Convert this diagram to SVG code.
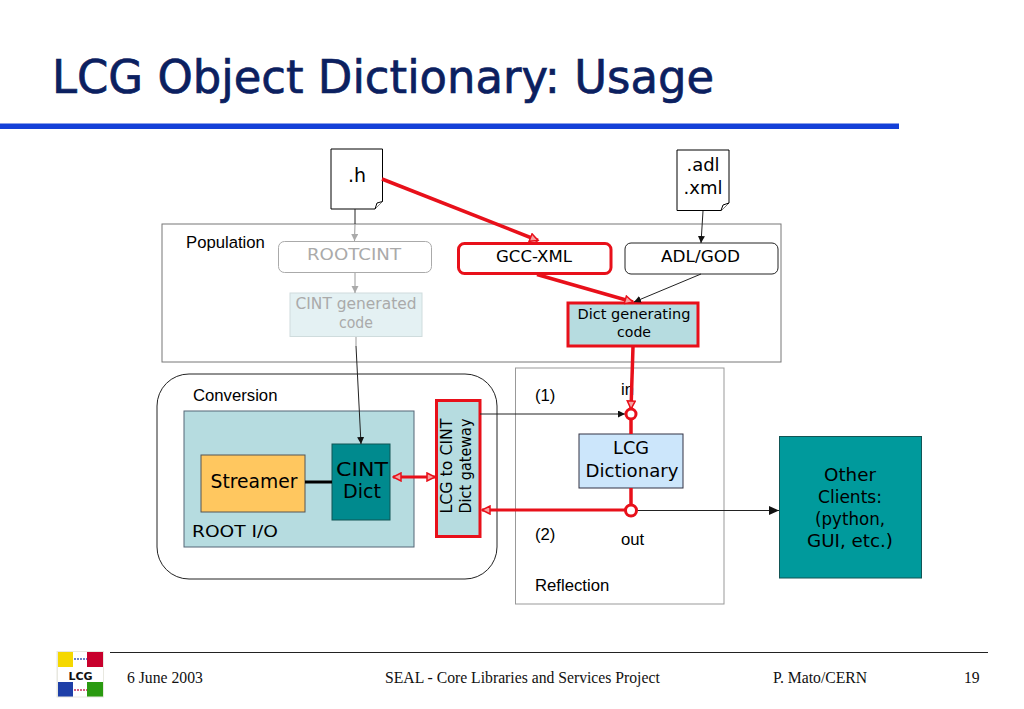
<svg xmlns="http://www.w3.org/2000/svg" width="1024" height="709" viewBox="0 0 1024 709">
<style>
.c{font-family:"DejaVu Sans","Noto Sans",sans-serif;fill:#000}
.a{font-family:"Liberation Sans",Arial,sans-serif;fill:#000;font-size:16.700px}
.t{font-family:"Liberation Serif","Times New Roman",serif;font-size:15.700px;fill:#111}
.m{text-anchor:middle}
.doc{fill:#fff;stroke:#000;stroke-width:1}
.k{fill:none;stroke:#222;stroke-width:1}
.g{fill:none;stroke:#999;stroke-width:1}
.r{fill:none;stroke:#e8101a;stroke-width:3.500}
.r2{fill:none;stroke:#e8101a;stroke-width:3}
</style>
<defs>
<marker id="ak" markerWidth="8" markerHeight="8" refX="7" refY="3.500" orient="auto" markerUnits="userSpaceOnUse"><path d="M0 0L7 3.500L0 7Z" fill="#111"/></marker>
<marker id="ab" markerWidth="11" markerHeight="10" refX="10" refY="4.500" orient="auto" markerUnits="userSpaceOnUse"><path d="M0 0L10 4.500L0 9Z" fill="#111"/></marker>
<marker id="ag" markerWidth="8" markerHeight="8" refX="7" refY="3.500" orient="auto" markerUnits="userSpaceOnUse"><path d="M0 0L7 3.500L0 7Z" fill="#aaa"/></marker>
<marker id="ar" markerWidth="11" markerHeight="10" refX="9" refY="5" orient="auto" markerUnits="userSpaceOnUse"><path d="M1 1L9 5L1 9Z" fill="#f7a0a0" stroke="#e8101a" stroke-width="1.500"/></marker>
<marker id="ars" markerWidth="11" markerHeight="10" refX="1" refY="5" orient="auto" markerUnits="userSpaceOnUse"><path d="M9 1L1 5L9 9Z" fill="#f7a0a0" stroke="#e8101a" stroke-width="1.500"/></marker>
</defs>
<rect width="1024" height="709" fill="#fff"/>
<g id="header">
<text x="52" y="93" font-size="47" textLength="662" lengthAdjust="spacingAndGlyphs" stroke="#0b2060" stroke-width="0.700" style="font-family:'DejaVu Sans','Noto Sans',sans-serif;fill:#0b2060">LCG Object Dictionary: Usage</text>
<rect x="0" y="123.500" width="899" height="5.500" fill="#1440d8"/>
</g>
<g id="population">
<rect x="162" y="224" width="619" height="138" fill="#fff" stroke="#777"/>
<text class="a" x="186" y="248">Population</text>
</g>
<g id="conversion">
<rect x="157" y="374" width="340" height="205" rx="32" fill="#fff" stroke="#222"/>
<text class="a" x="193" y="401">Conversion</text>
</g>
<g id="reflection">
<rect x="515.500" y="368" width="208.500" height="236" fill="#fff" stroke="#999"/>
<text class="a" x="535" y="401">(1)</text>
<text class="a" x="535" y="540">(2)</text>
<text class="a" x="535" y="591">Reflection</text>
<text class="a" x="621" y="395">in</text>
<text class="a" x="621" y="545">out</text>
</g>
<g id="root-io">
<rect x="184" y="411" width="230" height="136" fill="#b6dce0" stroke="#567"/>
<text class="c" x="192" y="537" font-size="16" textLength="86" lengthAdjust="spacingAndGlyphs">ROOT I/O</text>
</g>
<g id="h-file">
<path class="doc" d="M331 149H382.500V201.500L375 209H331Z"/>
<path class="doc" d="M382.500 201.500L377 203L375 209"/>
<text class="c m" x="357" y="182" font-size="19">.h</text>
</g>
<g id="adl-file">
<path class="doc" d="M677 150H729V203L721 210.500H677Z"/>
<path class="doc" d="M729 203L723 205L721 210.500"/>
<text class="c m" x="703" y="171" font-size="18">.adl</text>
<text class="c m" x="703" y="194" font-size="18">.xml</text>
</g>
<g id="rootcint">
<rect x="278.500" y="241.500" width="153" height="31" rx="6" fill="#fff" stroke="#aaa"/>
<text class="c m" x="354" y="260" font-size="16" style="fill:#aaa" textLength="94" lengthAdjust="spacingAndGlyphs">ROOTCINT</text>
</g>
<g id="cint-generated">
<rect x="290" y="293" width="132" height="43.500" fill="#e4f1f3" stroke="#cfdcdd"/>
<text class="c m" x="356" y="309" font-size="15" style="fill:#aaa" textLength="121" lengthAdjust="spacingAndGlyphs">CINT generated</text>
<text class="c m" x="356" y="328" font-size="15" style="fill:#aaa" textLength="34" lengthAdjust="spacingAndGlyphs">code</text>
</g>
<g id="gcc-xml">
<rect x="458.500" y="243.500" width="152.500" height="30" rx="6" fill="#fff" stroke="#e8101a" stroke-width="3"/>
<text class="c m" x="534" y="262" font-size="16" textLength="76" lengthAdjust="spacingAndGlyphs">GCC-XML</text>
</g>
<g id="adl-god">
<rect x="625" y="243" width="153" height="31" rx="6" fill="#fff" stroke="#222"/>
<text class="c m" x="700.500" y="262" font-size="16" textLength="79" lengthAdjust="spacingAndGlyphs">ADL/GOD</text>
</g>
<g id="dict-generating">
<rect x="568" y="303" width="130" height="43" fill="#b6dce0" stroke="#e8101a" stroke-width="3"/>
<text class="c m" x="634" y="319" font-size="14" textLength="113" lengthAdjust="spacingAndGlyphs">Dict generating</text>
<text class="c m" x="634" y="337" font-size="14" textLength="34" lengthAdjust="spacingAndGlyphs">code</text>
</g>
<g id="streamer">
<rect x="201" y="455" width="104" height="57" fill="#ffc75f" stroke="#555"/>
<text class="c m" x="254" y="488" font-size="19" textLength="87" lengthAdjust="spacingAndGlyphs">Streamer</text>
</g>
<g id="cint-dict">
<rect x="332" y="444" width="58" height="76" fill="#008a8e" stroke="#155"/>
<text class="c m" x="362" y="476" font-size="19" textLength="52" lengthAdjust="spacingAndGlyphs">CINT</text>
<text class="c m" x="362" y="498" font-size="19" textLength="38" lengthAdjust="spacingAndGlyphs">Dict</text>
</g>
<g id="gateway">
<rect x="436.500" y="400.500" width="43.500" height="136" fill="#b6dce0" stroke="#e8101a" stroke-width="3"/>
<text class="c m" transform="translate(452 466) rotate(-90)" font-size="15" textLength="95" lengthAdjust="spacingAndGlyphs">LCG to CINT</text>
<text class="c m" transform="translate(471 466) rotate(-90)" font-size="15" textLength="95" lengthAdjust="spacingAndGlyphs">Dict gateway</text>
</g>
<g id="lcg-dictionary">
<rect x="579" y="434" width="104" height="54" fill="#cce6fb" stroke="#334"/>
<text class="c m" x="631" y="454" font-size="18" textLength="36" lengthAdjust="spacingAndGlyphs">LCG</text>
<text class="c m" x="632" y="477" font-size="18" textLength="93" lengthAdjust="spacingAndGlyphs">Dictionary</text>
</g>
<g id="other-clients">
<rect x="779.500" y="436.500" width="142" height="141.500" fill="#009a9c" stroke="#155"/>
<text class="c m" x="850" y="481" font-size="17.500" textLength="52" lengthAdjust="spacingAndGlyphs">Other</text>
<text class="c m" x="850" y="503" font-size="17.500" textLength="64" lengthAdjust="spacingAndGlyphs">Clients:</text>
<text class="c m" x="850" y="525" font-size="17.500" textLength="70" lengthAdjust="spacingAndGlyphs">(python,</text>
<text class="c m" x="850" y="547" font-size="17.500" textLength="86" lengthAdjust="spacingAndGlyphs">GUI, etc.)</text>
</g>
<g id="connectors">
<line class="k" x1="355" y1="209" x2="355" y2="224"/>
<line class="g" x1="355" y1="224" x2="354.500" y2="241" marker-end="url(#ag)"/>
<line class="g" x1="355" y1="273" x2="355" y2="293" marker-end="url(#ag)"/>
<line class="g" x1="356" y1="337" x2="356" y2="346"/>
<line class="k" x1="356" y1="346" x2="361" y2="444" marker-end="url(#ak)"/>
<line class="k" x1="703" y1="211" x2="701" y2="243" marker-end="url(#ak)"/>
<line class="k" x1="701" y1="274" x2="634" y2="302" marker-end="url(#ak)"/>
<line class="r" x1="382" y1="179" x2="538" y2="240.500" marker-end="url(#ar)"/>
<line class="r" x1="537" y1="274.500" x2="633" y2="302" marker-end="url(#ar)"/>
<line class="r" x1="633" y1="347" x2="631" y2="409" marker-end="url(#ar)"/>
<line class="r" x1="631" y1="419" x2="631" y2="434"/>
<line class="r" x1="631" y1="488" x2="631" y2="505"/>
<line class="r2" x1="626" y1="510" x2="482" y2="510" marker-end="url(#ar)"/>
<line x1="305" y1="482" x2="332" y2="482" stroke="#000" stroke-width="3"/>
<line class="r2" x1="393" y1="477" x2="435" y2="477" marker-start="url(#ars)" marker-end="url(#ar)"/>
<line class="k" x1="480" y1="414" x2="625" y2="414" marker-end="url(#ak)"/>
<line class="k" x1="636" y1="510.500" x2="779" y2="510.500" marker-end="url(#ab)"/>
<circle cx="631" cy="414" r="5" fill="#fff" stroke="#e8101a" stroke-width="3"/>
<circle cx="631" cy="510.500" r="5.500" fill="#fff" stroke="#e8101a" stroke-width="3"/>
</g>
<g id="footer">
<rect x="56.500" y="651" width="47.500" height="46.500" fill="#e8e8e0"/>
<rect x="58" y="652" width="15" height="15" fill="#f5d800"/>
<rect x="87" y="652" width="16" height="15" fill="#c8002c"/>
<rect x="58" y="682" width="15" height="14.500" fill="#1e3fa8"/>
<rect x="87" y="682" width="16" height="14.500" fill="#2a9a10"/>
<rect x="73" y="652" width="14" height="44.500" fill="#fff"/>
<rect x="58" y="667" width="45" height="15" fill="#fff"/>
<line x1="74" y1="659" x2="87" y2="659" stroke="#3a5ab8" stroke-width="1.500" stroke-dasharray="2 1"/>
<line x1="74" y1="690" x2="87" y2="690" stroke="#c8305a" stroke-width="1.500" stroke-dasharray="2 1"/>
<text x="80.500" y="679.500" text-anchor="middle" font-size="11" font-weight="700" style="font-family:'DejaVu Sans',sans-serif" fill="#111">LCG</text>
<line x1="110" y1="652.500" x2="988" y2="652.500" stroke="#222" stroke-width="1"/>
<text class="t" x="127" y="683">6 June 2003</text>
<text class="t" x="385" y="683">SEAL - Core Libraries and Services Project</text>
<text class="t" x="773" y="683">P. Mato/CERN</text>
<text class="t" x="964" y="683">19</text>
</g>
</svg>
